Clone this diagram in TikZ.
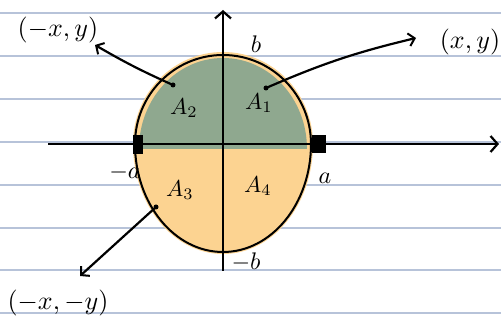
\documentclass[tikz,border=0pt]{standalone}
\usetikzlibrary{arrows.meta}
\definecolor{rule}{HTML}{B7C3D9}
\definecolor{grn}{HTML}{8FA88F}
\definecolor{org}{HTML}{FCD391}
\tikzset{
  axis/.style={line width=2.4pt, -{Straight Barb[length=7pt,width=16pt,line width=2.2pt]}},
  pointer/.style={line width=2.2pt, -{Straight Barb[length=6pt,width=13pt,line width=2pt]}},
  lbl/.style={scale=2.6, inner sep=0pt},
  axl/.style={scale=2.4, inner sep=0pt},
  area/.style={scale=2.3, inner sep=0pt},
  dotp/.style={circle, fill=black, inner sep=0pt, minimum size=5pt},
}
\begin{document}
\begin{tikzpicture}[x=1pt,y=-1pt]
\useasboundingbox (0,0) rectangle (501,328);
% ruled paper
\foreach \yy in {13,56,99,142,185,228,270,313}
  \draw[rule, line width=1.4pt] (0,\yy) -- (501,\yy);
% fills
\fill[org] (313,144) arc[start angle=0,end angle=-180,x radius=90,y radius=92]
  -- (133,144) arc[start angle=180,end angle=0,x radius=90,y radius=110] -- cycle;
\fill[grn] (307,149) arc[start angle=0,end angle=-180,x radius=84,y radius=91] -- cycle;
% ellipse outline
\draw[line width=2pt] (311,144) arc[start angle=0,end angle=-180,x radius=88,y radius=89];
\draw[line width=2pt] (135,144) arc[start angle=180,end angle=0,x radius=88,y radius=108];
% axes
\coordinate (xs) at (48,144);
\coordinate (xe) at (499,144);
\coordinate (ys) at (223,271);
\coordinate (ye) at (223,10);
\draw[axis] (xs) -- (xe);
\draw[axis] (ys) -- (ye);
% marks at +-a
\fill (133,135) rectangle (143,154);
\fill (312,135) rectangle (326,153);
% axis labels
\node[axl] (b) at (256,44) {$b$};
\node[axl] (mb) at (246,262) {$-b$};
\node[axl] (a) at (325,178) {$a$};
\node[axl] (ma) at (125,173) {$-a$};
% area labels
\node[area] (A1) at (259,103) {$A_1$};
\node[area] (A2) at (184,108) {$A_2$};
\node[area] (A3) at (180,190) {$A_3$};
\node[area] (A4) at (258,186) {$A_4$};
% points
\node[dotp] (p2) at (173,85) {};
\node[dotp] (p1) at (266,88) {};
\node[dotp] (p3) at (156,207) {};
% point labels
\node[lbl] (l2) at (58,30) {$(-x,y)$};
\node[lbl] (l1) at (470,42) {$(x,y)$};
\node[lbl] (l3) at (58,303) {$(-x,-y)$};
\coordinate (t2) at (95,45);
\coordinate (t1) at (416,38);
\coordinate (t3) at (80,276);
\draw[pointer] (p2.center) to[bend left=3] (t2);
\draw[pointer] (p1.center) to[bend left=5] (t1);
\draw[pointer] (p3.center) -- (t3);
\end{tikzpicture}
\end{document}
